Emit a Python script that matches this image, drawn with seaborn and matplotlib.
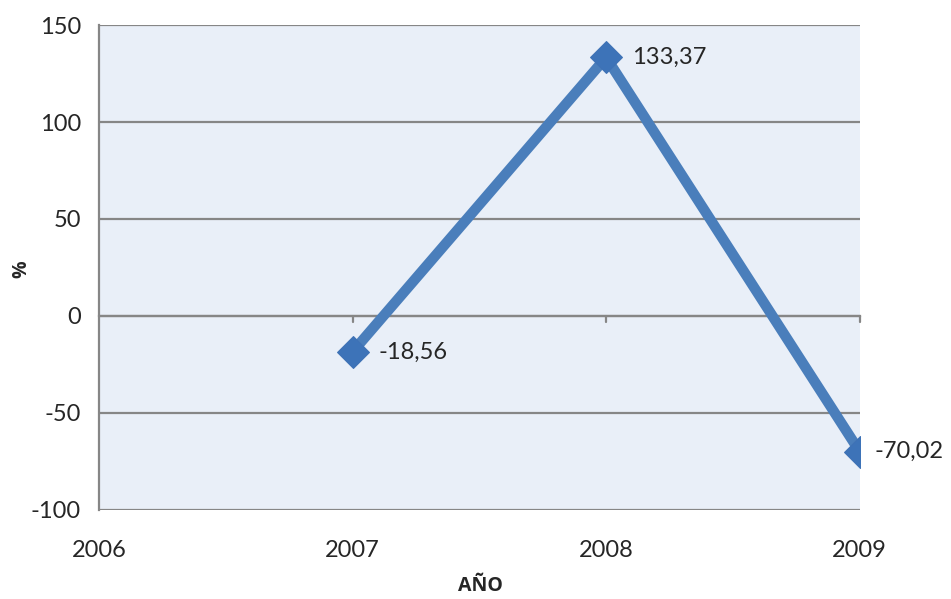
import matplotlib
matplotlib.use("Agg")
import matplotlib.pyplot as plt
import seaborn as sns
import pandas as pd

years = [2007, 2008, 2009]
values = [-18.56, 133.37, -70.02]
value_labels = ["-18,56", "133,37", "-70,02"]
x_ticks = [2006, 2007, 2008, 2009]
y_ticks = [-100, -50, 0, 50, 100, 150]

df = pd.DataFrame({"year": years, "pct": values})

sns.set_style("white")
plt.rcParams["font.family"] = ["Lato", "DejaVu Sans"]
plt.rcParams["axes.unicode_minus"] = False

fig = plt.figure(figsize=(9.51, 5.99), dpi=100)
ax = fig.add_axes([0.104, 0.149, 0.8, 0.809])
ax.set_facecolor("#e9eff8")

sns.lineplot(data=df, x="year", y="pct", ax=ax, color="#4a7ebb", linewidth=7.5,
             marker="D", markersize=16, markeredgecolor="#3f72b5",
             markerfacecolor="#3d73b8", solid_capstyle="butt", zorder=5)

ax.set_xlim(2006, 2009)
ax.set_ylim(-100, 150)
ax.set_yticks(y_ticks)
ax.yaxis.grid(True, color="#868686", linewidth=1.6)
ax.set_axisbelow(True)

for side in ["top", "right"]:
    ax.spines[side].set_visible(False)
ax.spines["left"].set_color("#868686")
ax.spines["left"].set_linewidth(1.6)
ax.spines["bottom"].set_position(("data", 0))
ax.spines["bottom"].set_color("#868686")
ax.spines["bottom"].set_linewidth(1.6)

ax.set_xticks(x_ticks)
ax.tick_params(axis="x", direction="in", length=0, labelbottom=False)
ax.tick_params(axis="y", direction="out", length=6, width=1.6, color="#868686",
               labelsize=17, pad=7)
# small downward tick marks on the zero line
for xt in x_ticks[1:]:
    ax.plot([xt, xt], [0, -3], color="#868686", linewidth=1.6, zorder=2,
            clip_on=False)

sec = ax.secondary_xaxis("bottom")
sec.spines["bottom"].set_visible(False)
sec.set_xticks(x_ticks)
sec.set_xticklabels([str(x) for x in x_ticks])
sec.tick_params(axis="x", length=0, labelsize=17, pad=22)

ax.set_xlabel("")
ax.set_ylabel("")
fig.text(0.505, 0.022, "AÑO", ha="center", va="center", fontsize=14,
         fontweight="bold", family=["Open Sans", "DejaVu Sans"])
fig.text(0.022, 0.55, "%", ha="center", va="center", fontsize=14,
         fontweight="bold", rotation=90, family=["Open Sans", "DejaVu Sans"])

offsets = [19, 19, 11]
for x, y, lab, off in zip(years, values, value_labels, offsets):
    ax.annotate(lab, (x, y), xytext=(off, 0), textcoords="offset points",
                ha="left", va="center", fontsize=17, annotation_clip=False)

fig.savefig("out.png", dpi=100)
